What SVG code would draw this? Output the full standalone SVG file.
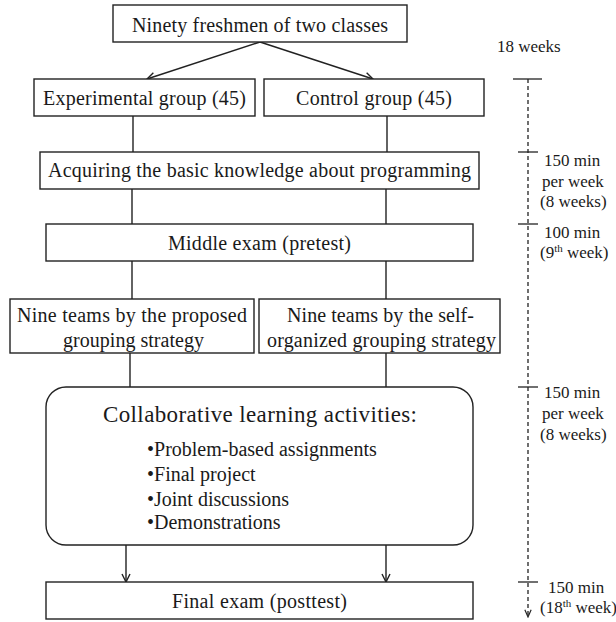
<svg xmlns="http://www.w3.org/2000/svg" width="616" height="622" viewBox="0 0 616 622">
<style>
.box{fill:#fff;stroke:#222;stroke-width:1.4}
text{font-family:'Liberation Serif','Times New Roman',Times,serif;fill:#1a1a1a}
.t{font-size:20px;text-anchor:middle}
.r{font-size:17px}
.b{font-size:20px}
.c{fill:none;stroke:#222;stroke-width:1.4}
.tl{fill:none;stroke:#222;stroke-width:1.3}
</style>
<defs>
<marker id="arr" viewBox="0 0 10 10" refX="9" refY="5" markerWidth="10" markerHeight="10" markerUnits="userSpaceOnUse" orient="auto">
<path d="M1,1 L9,5 L1,9" fill="none" stroke="#222" stroke-width="1.4"/>
</marker>
<marker id="arr2" viewBox="0 0 10 10" refX="9" refY="5" markerWidth="9" markerHeight="9" markerUnits="userSpaceOnUse" orient="auto">
<path d="M1,1.5 L9,5 L1,8.5" fill="none" stroke="#222" stroke-width="1.3"/>
</marker>
</defs>

<g id="connectors">
<line class="c" x1="260" y1="42" x2="147" y2="79" marker-end="url(#arr)"/>
<line class="c" x1="260" y1="42" x2="373" y2="79" marker-end="url(#arr)"/>
<line class="c" x1="133" y1="116" x2="133" y2="152"/>
<line class="c" x1="387" y1="116" x2="387" y2="152"/>
<line class="c" x1="132" y1="189" x2="132" y2="224"/>
<line class="c" x1="386" y1="189" x2="386" y2="224"/>
<line class="c" x1="132" y1="261" x2="132" y2="299"/>
<line class="c" x1="386" y1="261" x2="386" y2="299"/>
<line class="c" x1="130" y1="353" x2="130" y2="387"/>
<line class="c" x1="386" y1="353" x2="386" y2="387"/>
<line class="c" x1="126" y1="545" x2="126" y2="582" marker-end="url(#arr)"/>
<line class="c" x1="386" y1="545" x2="386" y2="582" marker-end="url(#arr)"/>
</g>

<g id="n-top">
<rect class="box" x="113" y="5" width="294" height="37"/>
<text class="t" x="260" y="32" font-family="Liberation Serif" textLength="256" lengthAdjust="spacing">Ninety freshmen of two classes</text>
</g>
<g id="n-exp">
<rect class="box" x="34" y="79" width="221" height="37"/>
<text class="t" x="144.5" y="105" font-family="Liberation Serif" textLength="203" lengthAdjust="spacing">Experimental group (45)</text>
</g>
<g id="n-ctl">
<rect class="box" x="264" y="79" width="220" height="37"/>
<text class="t" x="374" y="105" font-family="Liberation Serif" textLength="156" lengthAdjust="spacing">Control group (45)</text>
</g>
<g id="n-acq">
<rect class="box" x="40" y="152" width="439" height="37"/>
<text class="t" x="259.5" y="177" font-family="Liberation Serif" textLength="423" lengthAdjust="spacing">Acquiring the basic knowledge about programming</text>
</g>
<g id="n-mid">
<rect class="box" x="46" y="224" width="427" height="37"/>
<text class="t" x="259.5" y="250" font-family="Liberation Serif" textLength="183" lengthAdjust="spacing">Middle exam (pretest)</text>
</g>
<g id="n-team1">
<rect class="box" x="10" y="299" width="244" height="54"/>
<text class="t" x="132" y="322" font-family="Liberation Serif" textLength="230" lengthAdjust="spacing">Nine teams by the proposed</text>
<text class="t" x="133.5" y="347" font-family="Liberation Serif" textLength="141" lengthAdjust="spacing">grouping strategy</text>
</g>
<g id="n-team2">
<rect class="box" x="259" y="299" width="241" height="54"/>
<text class="t" x="380.5" y="322" font-family="Liberation Serif" textLength="187" lengthAdjust="spacing">Nine teams by the self-</text>
<text class="t" x="381.5" y="347" font-family="Liberation Serif" textLength="229" lengthAdjust="spacing">organized grouping strategy</text>
</g>
<g id="n-collab">
<rect class="box" x="46" y="387" width="427" height="158" rx="20" ry="20"/>
<text class="t" x="260" y="422" font-family="Liberation Serif" font-size="23" style="font-size:23px" textLength="314" lengthAdjust="spacing">Collaborative learning activities:</text>
<text class="b" x="147" y="456" font-family="Liberation Serif">•Problem-based assignments</text>
<text class="b" x="147" y="481" font-family="Liberation Serif">•Final project</text>
<text class="b" x="147" y="506" font-family="Liberation Serif">•Joint discussions</text>
<text class="b" x="147" y="529" font-family="Liberation Serif">•Demonstrations</text>
</g>
<g id="n-final">
<rect class="box" x="46" y="582" width="427" height="37"/>
<text class="t" x="259.5" y="608" font-family="Liberation Serif" textLength="175" lengthAdjust="spacing">Final exam (posttest)</text>
</g>

<g id="timeline">
<line class="tl" x1="528" y1="79" x2="528" y2="617" stroke-dasharray="4,3" marker-end="url(#arr2)"/>
<line class="tl" x1="513" y1="79" x2="542" y2="79"/>
<line class="tl" x1="518" y1="152" x2="538" y2="152"/>
<line class="tl" x1="518" y1="224" x2="538" y2="224"/>
<line class="tl" x1="518" y1="387" x2="538" y2="387"/>
<line class="tl" x1="518" y1="582" x2="538" y2="582"/>
<text class="r" x="497" y="52" font-family="Liberation Serif">18 weeks</text>
<text class="r" x="544" y="166" font-family="Liberation Serif">150 min</text>
<text class="r" x="542" y="187" font-family="Liberation Serif">per week</text>
<text class="r" x="540" y="207" font-family="Liberation Serif">(8 weeks)</text>
<text class="r" x="544" y="238" font-family="Liberation Serif">100 min</text>
<text class="r" x="540" y="258" font-family="Liberation Serif">(9<tspan font-size="11" dy="-6">th</tspan><tspan dy="6"> week)</tspan></text>
<text class="r" x="544" y="398" font-family="Liberation Serif">150 min</text>
<text class="r" x="542" y="419" font-family="Liberation Serif">per week</text>
<text class="r" x="540" y="440" font-family="Liberation Serif">(8 weeks)</text>
<text class="r" x="548" y="593" font-family="Liberation Serif">150 min</text>
<text class="r" x="540" y="613" font-family="Liberation Serif">(18<tspan font-size="11" dy="-6">th</tspan><tspan dy="6"> week)</tspan></text>
</g>
</svg>
